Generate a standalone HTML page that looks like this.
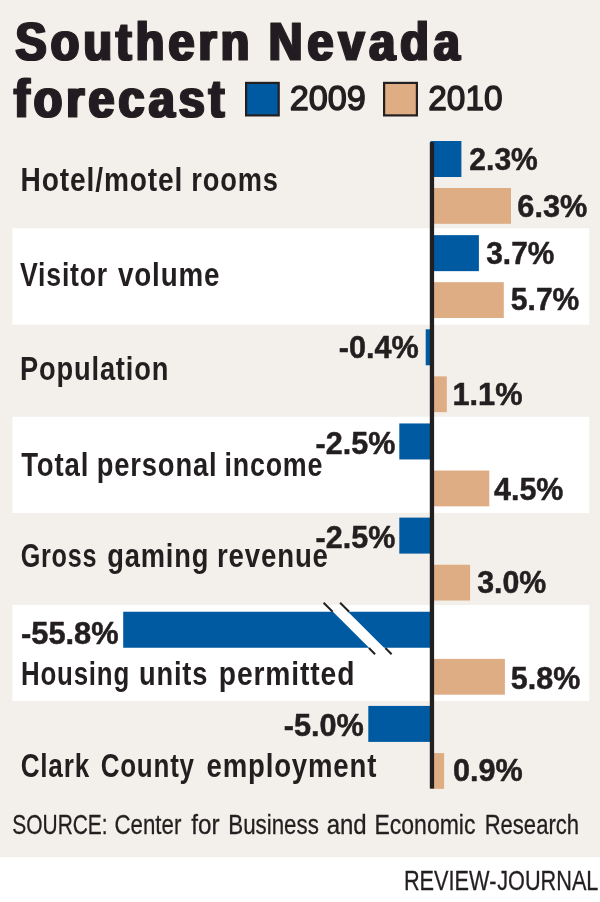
<!DOCTYPE html>
<html lang="en"><head><meta charset="utf-8"><title>Southern Nevada forecast</title>
<style>
html,body{margin:0;padding:0;background:#f3f0eb;}
body{width:600px;height:902px;overflow:hidden;}
svg{display:block;}
svg text{font-family:"Liberation Sans", sans-serif;fill:#231f20;}
</style></head><body>
<svg width="600" height="902" viewBox="0 0 600 902">
<defs><filter id="fat" x="-5%" y="-20%" width="110%" height="140%"><feMorphology operator="dilate" radius="1.14 0"/></filter></defs>
<rect x="0" y="0" width="600" height="902" fill="#f3f0eb"/>
<rect x="12.4" y="228.3" width="576.8" height="96.40" fill="#fff"/>
<rect x="12.4" y="416.8" width="576.8" height="96.20" fill="#fff"/>
<rect x="12.4" y="604.9" width="576.8" height="96.10" fill="#fff"/>
<rect x="0" y="857.2" width="600" height="45" fill="#fff"/>
<rect x="246.1" y="82.9" width="32.6" height="32.5" fill="#005aa1" stroke="#231f20" stroke-width="2.2"/>
<rect x="384.1" y="82.9" width="32.8" height="32.5" fill="#dead84" stroke="#231f20" stroke-width="2.2"/>
<rect x="430.5" y="141.0" width="30.90" height="36.00" fill="#005aa1"/>
<rect x="430.5" y="188.0" width="80.50" height="35.80" fill="#dead84"/>
<rect x="430.5" y="235.15" width="48.40" height="36.00" fill="#005aa1"/>
<rect x="430.5" y="282.18" width="73.30" height="35.80" fill="#dead84"/>
<rect x="425.7" y="329.3" width="7.30" height="36.00" fill="#005aa1"/>
<rect x="430.5" y="376.36" width="16.30" height="35.80" fill="#dead84"/>
<rect x="399.3" y="423.45000000000005" width="33.70" height="36.00" fill="#005aa1"/>
<rect x="430.5" y="470.54" width="58.80" height="35.80" fill="#dead84"/>
<rect x="399.3" y="517.6" width="33.70" height="36.00" fill="#005aa1"/>
<rect x="430.5" y="564.72" width="39.60" height="35.80" fill="#dead84"/>
<rect x="123.2" y="611.75" width="309.80" height="36.00" fill="#005aa1"/>
<rect x="430.5" y="658.9000000000001" width="74.40" height="35.80" fill="#dead84"/>
<rect x="368.3" y="705.9000000000001" width="64.70" height="36.00" fill="#005aa1"/>
<rect x="430.5" y="753.08" width="13.60" height="35.80" fill="#dead84"/>
<polygon points="332.2,611 347.2,611 384.8,648.6 369.8,648.6" fill="#fff"/>
<line x1="323.6" y1="602.7" x2="332.65" y2="611.75" stroke="#231f20" stroke-width="2"/>
<line x1="340.1" y1="602.7" x2="349.15" y2="611.75" stroke="#231f20" stroke-width="2"/>
<line x1="368.9" y1="648" x2="375.1" y2="654.2" stroke="#231f20" stroke-width="2"/>
<line x1="385.4" y1="648" x2="391.6" y2="654.2" stroke="#231f20" stroke-width="2"/>
<rect x="429.8" y="142.2" width="4.3" height="646.4" fill="#231f20"/>
<text transform="translate(15.60 60.20) scale(0.8800 1)" font-size="53.00" font-weight="700" stroke="#231f20" stroke-width="1.2" stroke-linejoin="round" letter-spacing="4.712" filter="url(#fat)">Southern</text>
<text transform="translate(268.73 60.20) scale(0.8800 1)" font-size="53.00" font-weight="700" stroke="#231f20" stroke-width="1.2" stroke-linejoin="round" letter-spacing="5.720" filter="url(#fat)">Nevada</text>
<text transform="translate(14.06 116.80) scale(0.8800 1)" font-size="53.00" font-weight="700" stroke="#231f20" stroke-width="1.2" stroke-linejoin="round" letter-spacing="4.682" filter="url(#fat)">forecast</text>
<text transform="translate(289.71 110.25) scale(0.9595 1)" font-size="35.70" font-weight="400" stroke="#231f20" stroke-width="1.4" stroke-linejoin="round">2009</text>
<text transform="translate(428.23 110.25) scale(0.9358 1)" font-size="35.70" font-weight="400" stroke="#231f20" stroke-width="1.4" stroke-linejoin="round">2010</text>
<text transform="translate(20.61 190.90) scale(0.8579 1)" font-size="32.80" font-weight="700" letter-spacing="1.000">Hotel/motel</text>
<text transform="translate(191.36 190.90) scale(0.8310 1)" font-size="32.80" font-weight="700" letter-spacing="1.000">rooms</text>
<text transform="translate(469.34 169.95) scale(0.9511 1)" font-size="31.60" font-weight="700" stroke="#231f20" stroke-width="0.5" stroke-linejoin="round">2.3%</text>
<text transform="translate(517.32 217.20) scale(0.9722 1)" font-size="31.60" font-weight="700" stroke="#231f20" stroke-width="0.5" stroke-linejoin="round">6.3%</text>
<text transform="translate(20.00 285.60) scale(0.8118 1)" font-size="32.80" font-weight="700" letter-spacing="1.000">Visitor</text>
<text transform="translate(118.00 285.60) scale(0.8472 1)" font-size="32.80" font-weight="700" letter-spacing="1.000">volume</text>
<text transform="translate(486.24 264.45) scale(0.9455 1)" font-size="31.60" font-weight="700" stroke="#231f20" stroke-width="0.5" stroke-linejoin="round">3.7%</text>
<text transform="translate(510.84 310.45) scale(0.9511 1)" font-size="31.60" font-weight="700" stroke="#231f20" stroke-width="0.5" stroke-linejoin="round">5.7%</text>
<text transform="translate(20.06 380.00) scale(0.8310 1)" font-size="32.80" font-weight="700" letter-spacing="1.000">Population</text>
<text transform="translate(338.82 357.95) scale(0.9694 1)" font-size="31.60" font-weight="700" stroke="#231f20" stroke-width="0.5" stroke-linejoin="round">-0.4%</text>
<text transform="translate(452.40 405.45) scale(0.9739 1)" font-size="31.60" font-weight="700" stroke="#231f20" stroke-width="0.5" stroke-linejoin="round">1.1%</text>
<text transform="translate(21.22 475.70) scale(0.8402 1)" font-size="32.80" font-weight="700" letter-spacing="1.000">Total</text>
<text transform="translate(96.76 475.70) scale(0.8343 1)" font-size="32.80" font-weight="700" letter-spacing="1.000">personal</text>
<text transform="translate(224.39 475.70) scale(0.8188 1)" font-size="32.80" font-weight="700" letter-spacing="1.000">income</text>
<text transform="translate(315.58 453.70) scale(0.9663 1)" font-size="31.60" font-weight="700" stroke="#231f20" stroke-width="0.5" stroke-linejoin="round">-2.5%</text>
<text transform="translate(494.04 499.55) scale(0.9636 1)" font-size="31.60" font-weight="700" stroke="#231f20" stroke-width="0.5" stroke-linejoin="round">4.5%</text>
<text transform="translate(20.69 566.70) scale(0.7684 1)" font-size="32.80" font-weight="700" letter-spacing="1.000">Gross</text>
<text transform="translate(107.21 566.70) scale(0.8325 1)" font-size="32.80" font-weight="700" letter-spacing="1.000">gaming</text>
<text transform="translate(217.04 566.70) scale(0.8420 1)" font-size="32.80" font-weight="700" letter-spacing="1.000">revenue</text>
<text transform="translate(315.58 547.95) scale(0.9663 1)" font-size="31.60" font-weight="700" stroke="#231f20" stroke-width="0.5" stroke-linejoin="round">-2.5%</text>
<text transform="translate(477.23 593.45) scale(0.9595 1)" font-size="31.60" font-weight="700" stroke="#231f20" stroke-width="0.5" stroke-linejoin="round">3.0%</text>
<text transform="translate(21.02 643.75) scale(0.9751 1)" font-size="31.60" font-weight="700" stroke="#231f20" stroke-width="0.5" stroke-linejoin="round">-55.8%</text>
<text transform="translate(21.05 685.30) scale(0.7889 1)" font-size="32.80" font-weight="700" letter-spacing="1.000">Housing</text>
<text transform="translate(138.96 685.30) scale(0.8309 1)" font-size="32.80" font-weight="700" letter-spacing="1.000">units</text>
<text transform="translate(218.80 685.30) scale(0.8614 1)" font-size="32.80" font-weight="700" letter-spacing="1.000">permitted</text>
<text transform="translate(510.83 689.05) scale(0.9638 1)" font-size="31.60" font-weight="700" stroke="#231f20" stroke-width="0.5" stroke-linejoin="round">5.8%</text>
<text transform="translate(283.72 736.45) scale(0.9718 1)" font-size="31.60" font-weight="700" stroke="#231f20" stroke-width="0.5" stroke-linejoin="round">-5.0%</text>
<text transform="translate(20.65 776.50) scale(0.7966 1)" font-size="32.80" font-weight="700" letter-spacing="1.000">Clark</text>
<text transform="translate(100.66 776.50) scale(0.7921 1)" font-size="32.80" font-weight="700" letter-spacing="1.000">County</text>
<text transform="translate(206.47 776.50) scale(0.8403 1)" font-size="32.80" font-weight="700" letter-spacing="1.000">employment</text>
<text transform="translate(453.07 781.20) scale(0.9687 1)" font-size="31.60" font-weight="700" stroke="#231f20" stroke-width="0.5" stroke-linejoin="round">0.9%</text>
<text transform="translate(12.27 833.60) scale(0.7403 1)" font-size="28.30" font-weight="400" stroke="#231f20" stroke-width="0.3" stroke-linejoin="round">SOURCE:</text>
<text transform="translate(114.50 833.60) scale(0.7872 1)" font-size="28.30" font-weight="400" stroke="#231f20" stroke-width="0.3" stroke-linejoin="round">Center</text>
<text transform="translate(191.19 833.60) scale(0.8569 1)" font-size="28.30" font-weight="400" stroke="#231f20" stroke-width="0.3" stroke-linejoin="round">for</text>
<text transform="translate(228.33 833.60) scale(0.7883 1)" font-size="28.30" font-weight="400" stroke="#231f20" stroke-width="0.3" stroke-linejoin="round">Business</text>
<text transform="translate(326.67 833.60) scale(0.8483 1)" font-size="28.30" font-weight="400" stroke="#231f20" stroke-width="0.3" stroke-linejoin="round">and</text>
<text transform="translate(374.48 833.60) scale(0.8133 1)" font-size="28.30" font-weight="400" stroke="#231f20" stroke-width="0.3" stroke-linejoin="round">Economic</text>
<text transform="translate(484.65 833.60) scale(0.7800 1)" font-size="28.30" font-weight="400" stroke="#231f20" stroke-width="0.3" stroke-linejoin="round">Research</text>
<text transform="translate(403.88 889.65) scale(0.7879 1)" font-size="27.60" font-weight="400" stroke="#231f20" stroke-width="0.3" stroke-linejoin="round">REVIEW-</text>
<text transform="translate(497.20 889.65) scale(0.7860 1)" font-size="27.60" font-weight="400" stroke="#231f20" stroke-width="0.3" stroke-linejoin="round">JOURNAL</text>
</svg>
</body></html>
